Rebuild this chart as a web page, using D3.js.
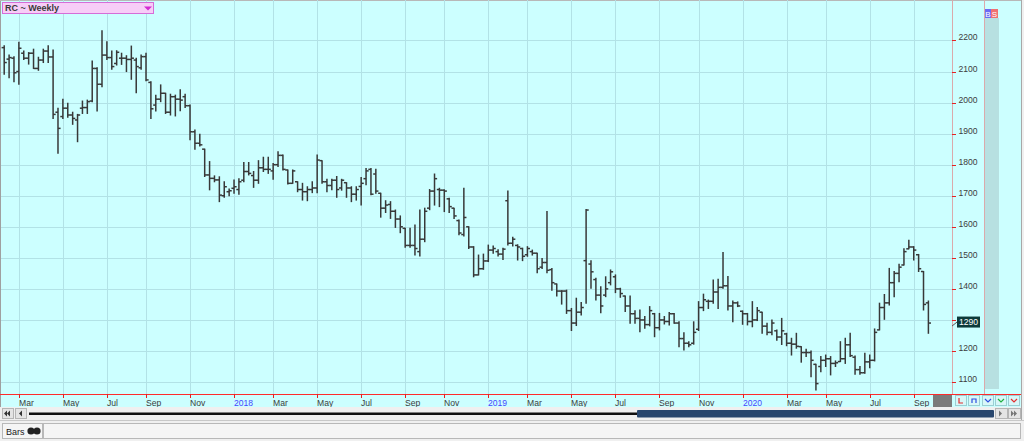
<!DOCTYPE html>
<html><head><meta charset="utf-8">
<script src="https://cdn.jsdelivr.net/npm/d3@7"></script>
<style>
html,body{margin:0;padding:0;background:#f0f0f0;overflow:hidden}
svg{display:block;font-family:"Liberation Sans",Arial,sans-serif}
</style></head><body>
<svg id="c" width="1024" height="441"></svg>
<script>
const title = "RC ~ Weekly";
const firstWeek = new Date(2017, 1, 10); // first weekly bar (Friday)
const open = [2177,2140,2143,2100,2159,2143,2159,2110,2137,2166,2147,1969,1955,1982,1960,1944,1982,1984,2005,2110,
2059,2153,2145,2126,2143,2143,2139,2137,2112,2148,2065,1992,2011,2030,1969,2019,2011,2019,1990,1906,
1869,1850,1767,1756,1751,1700,1713,1724,1720,1750,1778,1765,1750,1790,1785,1780,1800,1830,1783,1740,
1745,1720,1713,1720,1725,1813,1745,1733,1750,1725,1742,1725,1705,1730,1755,1785,1770,1708,1660,1672,
1650,1625,1595,1540,1540,1520,1560,1660,1715,1720,1718,1690,1660,1620,1575,1600,1535,1445,1465,1490,
1525,1520,1512,1684,1547,1540,1530,1510,1520,1515,1470,1485,1462,1416,1393,1393,1330,1290,1325,1491,
1480,1430,1380,1380,1420,1439,1400,1377,1345,1320,1305,1300,1285,1320,1275,1300,1295,1320,1290,1240,
1225,1225,1270,1340,1360,1360,1390,1405,1410,1345,1355,1328,1320,1295,1300,1325,1280,1260,1265,1245,
1255,1225,1222,1214,1195,1195,1157,1150,1170,1175,1160,1166,1175,1220,1180,1140,1130,1165,1170,1268,
1340,1355,1420,1450,1477,1529,1535,1510,1456,1355];
const high = [2183,2153,2148,2194,2166,2161,2172,2146,2172,2183,2169,1982,2011,1998,1969,1962,2005,2008,2134,2112,
2231,2196,2166,2167,2159,2151,2182,2143,2153,2159,2067,2024,2057,2030,2027,2024,2041,2027,1992,1912,
1898,1850,1810,1764,1761,1745,1722,1751,1755,1807,1807,1778,1813,1824,1824,1804,1842,1831,1783,1783,
1745,1740,1729,1745,1831,1813,1753,1753,1762,1753,1742,1729,1729,1759,1788,1788,1785,1708,1684,1681,
1654,1635,1595,1595,1606,1654,1660,1720,1770,1724,1719,1692,1660,1622,1724,1600,1536,1509,1512,1541,
1538,1526,1531,1715,1566,1542,1531,1536,1525,1515,1498,1649,1466,1416,1394,1396,1337,1370,1356,1656,
1491,1434,1407,1439,1461,1445,1402,1377,1377,1330,1332,1311,1343,1321,1321,1311,1324,1321,1294,1259,
1230,1294,1359,1383,1364,1429,1431,1517,1440,1361,1358,1329,1321,1359,1340,1325,1289,1300,1268,1305,
1257,1241,1257,1214,1206,1200,1157,1182,1187,1182,1168,1230,1241,1257,1184,1150,1193,1187,1271,1354,
1382,1466,1456,1479,1529,1557,1536,1511,1456,1361];
const low = [2091,2080,2067,2059,2139,2124,2110,2104,2129,2129,1949,1837,1949,1953,1930,1874,1965,1965,2003,1973,
2051,2139,2107,2121,2123,2100,2075,2032,2107,2070,1949,1973,2003,1965,1960,1957,1974,1984,1880,1850,
1860,1762,1719,1745,1681,1695,1700,1708,1705,1745,1767,1727,1740,1778,1772,1753,1794,1783,1738,1740,
1713,1686,1684,1710,1710,1740,1713,1719,1695,1718,1695,1681,1686,1670,1735,1703,1708,1631,1646,1627,
1598,1581,1534,1534,1509,1506,1552,1655,1670,1665,1649,1646,1627,1574,1570,1530,1439,1445,1463,1488,
1515,1506,1495,1541,1538,1493,1491,1505,1509,1452,1466,1452,1396,1377,1351,1321,1266,1282,1316,1354,
1402,1364,1323,1375,1413,1388,1373,1327,1289,1289,1262,1273,1281,1246,1268,1287,1284,1289,1214,1203,
1214,1222,1266,1330,1337,1354,1337,1402,1332,1294,1343,1286,1284,1278,1298,1257,1252,1252,1235,1221,
1217,1187,1209,1164,1182,1117,1074,1133,1150,1123,1150,1166,1160,1182,1125,1125,1128,1146,1168,1268,
1302,1348,1375,1423,1477,1529,1493,1456,1332,1257];
const close = [2129,2145,2096,2175,2143,2159,2110,2137,2166,2147,1962,1917,1982,1960,1949,1960,1984,2003,2110,2059,
2153,2145,2116,2162,2143,2139,2143,2116,2148,2073,1980,2011,2030,1969,2019,2011,2008,1990,1906,1869,
1864,1767,1756,1751,1702,1729,1716,1729,1745,1778,1772,1750,1790,1785,1785,1800,1830,1785,1740,1780,
1720,1713,1720,1725,1815,1745,1733,1750,1720,1750,1725,1705,1720,1740,1780,1705,1715,1660,1670,1650,
1625,1600,1540,1540,1530,1560,1650,1715,1755,1718,1715,1665,1635,1580,1630,1535,1445,1465,1490,1525,
1530,1512,1528,1547,1560,1535,1505,1530,1515,1465,1485,1460,1420,1393,1393,1330,1290,1325,1340,1654,
1455,1380,1345,1400,1455,1400,1385,1345,1320,1305,1300,1285,1330,1275,1300,1295,1320,1290,1240,1225,
1220,1260,1340,1365,1360,1390,1405,1410,1345,1355,1345,1320,1295,1300,1330,1280,1260,1290,1245,1265,
1225,1222,1215,1195,1195,1170,1095,1170,1175,1160,1162,1175,1220,1185,1140,1130,1165,1170,1260,1340,
1355,1420,1450,1470,1520,1535,1525,1465,1350,1290];
const yTicks = [1100,1200,1300,1400,1500,1600,1700,1800,1900,2000,2100,2200];
const monthNames = ["Jan","Feb","Mar","Apr","May","Jun","Jul","Aug","Sep","Oct","Nov","Dec"];
const lastPrice = close[close.length - 1];

const n = close.length;
const dates = d3.range(n).map(i => d3.timeFriday.offset(firstWeek, i));
const bars = d3.range(n).map(i => ({i, d: dates[i], o: open[i], h: high[i], l: low[i], c: close[i]}));

const svg = d3.select("#c");
const W = 1024, H = 441;
const plotL = 1, plotR = 952, plotT = 0, plotB = 394;

const x = d3.scaleLinear().domain([0, n - 1]).range([4.2, 928.4]);
const y = d3.scaleLinear().domain([1061.5, 2330.4]).range([plotB, plotT]);

// page background
svg.append("rect").attr("width", W).attr("height", H).attr("fill", "#f0f0f0");
// chart panel background
svg.append("rect").attr("x", 0).attr("y", 0).attr("width", 1021).attr("height", 407).attr("fill", "#ccffff");
svg.append("line").attr("x1", 0.5).attr("x2", 0.5).attr("y1", 0).attr("y2", 407).attr("stroke", "#a0a0a0");
svg.append("line").attr("x1", 0).attr("x2", 1021).attr("y1", 0.5).attr("y2", 0.5).attr("stroke", "#b8b8b8");
svg.append("line").attr("x1", 1021.5).attr("x2", 1021.5).attr("y1", 0).attr("y2", 441).attr("stroke", "#a8a8a8");

// month ticks
const monthTicks = bars.filter(b => b.i > 0 && b.d.getMonth() !== dates[b.i - 1].getMonth() && b.d.getMonth() % 2 === 0);

const grid = svg.append("g").attr("stroke", "#b2e2e6").attr("stroke-width", 1);
grid.selectAll("line.h").data(yTicks).join("line")
  .attr("x1", plotL).attr("x2", plotR)
  .attr("y1", d => Math.round(y(d)) + 0.5).attr("y2", d => Math.round(y(d)) + 0.5);
grid.selectAll("line.v").data(monthTicks).join("line")
  .attr("x1", d => Math.round(x(d.i)) + 0.5).attr("x2", d => Math.round(x(d.i)) + 0.5)
  .attr("y1", plotT).attr("y2", plotB);

// OHLC bars
const bg = svg.append("g").attr("stroke", "#383838").attr("stroke-width", 1.5).attr("fill", "none");
const bar = bg.selectAll("g").data(bars).join("g");
bar.append("line").attr("x1", d => x(d.i)).attr("x2", d => x(d.i))
  .attr("y1", d => y(d.h) - 0.5).attr("y2", d => y(d.l) + 0.5);
bar.append("line").attr("x1", d => x(d.i) - 2.6).attr("x2", d => x(d.i))
  .attr("y1", d => y(d.o)).attr("y2", d => y(d.o));
bar.append("line").attr("x1", d => x(d.i)).attr("x2", d => x(d.i) + 2.6)
  .attr("y1", d => y(d.c)).attr("y2", d => y(d.c));

// right price axis
const ly = y(lastPrice);
svg.append("line").attr("x1", 952.5).attr("x2", 952.5).attr("y1", 0).attr("y2", 394).attr("stroke", "#dba9ab");
svg.append("line").attr("x1", 984.5).attr("x2", 984.5).attr("y1", 0).attr("y2", 394).attr("stroke", "#dba9ab");
const ya = svg.append("g");
ya.selectAll("line").data(yTicks).join("line")
  .attr("x1", 952).attr("x2", 956)
  .attr("y1", d => Math.round(y(d)) + 0.5).attr("y2", d => Math.round(y(d)) + 0.5)
  .attr("stroke", "#e52222");
// labels hidden where the last-price marker covers them
ya.selectAll("text").data(yTicks.filter(d => Math.abs(y(d) - 3 - (ly - 1)) > 9)).join("text")
  .attr("x", 958.5).attr("y", d => y(d) - 3)
  .attr("dy", "0.35em").attr("font-size", 8.6).attr("fill", "#3c3c3c").text(d => d);

// side panel band and B/S
svg.append("rect").attr("x", 985).attr("y", 18).attr("width", 14).attr("height", 371).attr("fill", "#b7e0e1");
svg.append("rect").attr("x", 985).attr("y", 9).attr("width", 6).attr("height", 9).attr("fill", "#6b6bf5");
svg.append("rect").attr("x", 991).attr("y", 9).attr("width", 7).attr("height", 9).attr("fill", "#f07070");
svg.append("text").attr("x", 988).attr("y", 16.5).attr("text-anchor", "middle").attr("font-size", 8).attr("fill", "#fff").text("B");
svg.append("text").attr("x", 994.5).attr("y", 16.5).attr("text-anchor", "middle").attr("font-size", 8).attr("fill", "#fff").text("S");

// last price marker
svg.append("line").attr("x1", 952).attr("y1", ly + 3).attr("x2", 957).attr("y2", ly - 1).attr("stroke", "#555");
svg.append("rect").attr("x", 957).attr("y", ly - 6.5).attr("width", 23).attr("height", 11).attr("fill", "#0d3a3a");
svg.append("text").attr("x", 968.5).attr("y", ly - 1).attr("dy", "0.35em").attr("text-anchor", "middle")
  .attr("font-size", 8.6).attr("fill", "#ffffff").text(lastPrice);

// bottom time axis
svg.append("line").attr("x1", 0).attr("x2", 1021).attr("y1", 394.5).attr("y2", 394.5).attr("stroke", "#ff2a2a");
const xa = svg.append("g");
xa.selectAll("line").data(monthTicks).join("line")
  .attr("x1", d => Math.round(x(d.i)) + 0.5).attr("x2", d => Math.round(x(d.i)) + 0.5)
  .attr("y1", 394).attr("y2", 398).attr("stroke", "#e52222");
xa.selectAll("text").data(monthTicks).join("text")
  .attr("x", d => Math.round(x(d.i))).attr("y", 405.5)
  .attr("font-size", 8.6)
  .attr("fill", d => d.d.getMonth() === 0 ? "#4646ff" : "#3c3c3c")
  .text(d => d.d.getMonth() === 0 ? d.d.getFullYear() : monthNames[d.d.getMonth()]);

// grey box + small buttons
svg.append("rect").attr("x", 933).attr("y", 395).attr("width", 19).attr("height", 12).attr("fill", "#7b7b7b");
const btnX = [955, 968, 982, 995, 1008];
const btnC = ["#e23030", "#3050e0", "#3050e0", "#20b040", "#e23030"];
btnX.forEach((bx, k) => {
  svg.append("rect").attr("x", bx + 0.5).attr("y", 395.5).attr("width", 11).attr("height", 10).attr("fill", "#d9f7f8").attr("stroke", "#9ccfd3");
  const p = [
    `M${bx+4},${398} v5 h4`,
    `M${bx+4},${403} v-4 h4 v4`,
    `M${bx+3},${399} l3,3 l3,-3`,
    `M${bx+3},${399} l3,3 l3,-3`,
    `M${bx+3},${399} l3,3 l3,-3`
  ][k];
  svg.append("path").attr("d", p).attr("fill", "none").attr("stroke", btnC[k]).attr("stroke-width", 1.2);
});

// scrollbar row
svg.append("rect").attr("x", 0).attr("y", 407).attr("width", 1021).attr("height", 13).attr("fill", "#f0f0f0");
[[2, "M7,410.5 l-3,3 l3,3 z M10,410.5 l-3,3 l3,3 z"], [15, "M22,410.5 l-3,3 l3,3 z"]].forEach(([bx, p]) => {
  svg.append("rect").attr("x", bx + 0.5).attr("y", 408.5).attr("width", 11).attr("height", 10).attr("fill", "#e4e4e4").attr("stroke", "#b5b5b5");
  svg.append("path").attr("d", p).attr("fill", "#333");
});
svg.append("rect").attr("x", 29).attr("y", 412.5).attr("width", 609).attr("height", 2.5).attr("fill", "#111");
svg.append("rect").attr("x", 637).attr("y", 410).attr("width", 357).attr("height", 7.5).attr("rx", 1).attr("fill", "#28466d");
[[995, "M999,410.5 l3,3 l-3,3 z"], [1008, "M1011,410.5 l3,3 l-3,3 z M1014,410.5 l3,3 l-3,3 z"]].forEach(([bx, p]) => {
  svg.append("rect").attr("x", bx + 0.5).attr("y", 408.5).attr("width", 12).attr("height", 10).attr("fill", "#e4e4e4").attr("stroke", "#b5b5b5");
  svg.append("path").attr("d", p).attr("fill", "#777");
});

// bottom status bar
svg.append("rect").attr("x", 0).attr("y", 420).attr("width", 1024).attr("height", 21).attr("fill", "#f0f0f0");
svg.append("line").attr("x1", 0).attr("x2", 1024).attr("y1", 420.5).attr("y2", 420.5).attr("stroke", "#c8c8c8");
svg.append("rect").attr("x", 2.5).attr("y", 423.5).attr("width", 40).attr("height", 15).attr("fill", "#f5f5f5").attr("stroke", "#b8b8b8");
svg.append("text").attr("x", 6).attr("y", 434.5).attr("font-size", 9).attr("fill", "#222").text("Bars");
svg.append("circle").attr("cx", 31).attr("cy", 431).attr("r", 3.6).attr("fill", "#222");
svg.append("circle").attr("cx", 37).attr("cy", 431).attr("r", 3.6).attr("fill", "#222");
svg.append("rect").attr("x", 43.5).attr("y", 423.5).attr("width", 977).attr("height", 15).attr("fill", "#f5f5f5").attr("stroke", "#b8b8b8");

// title box
svg.append("rect").attr("x", 2.5).attr("y", 2.5).attr("width", 151).attr("height", 11).attr("fill", "#f7cdf7").attr("stroke", "#d56dd8");
svg.append("text").attr("x", 5).attr("y", 11.2).attr("font-size", 9).attr("font-weight", "bold").attr("fill", "#3a3a3a").text(title);
svg.append("path").attr("d", "M144,6.5 h8 l-4,4 z").attr("fill", "#d22ad2");
</script>
</body></html>
